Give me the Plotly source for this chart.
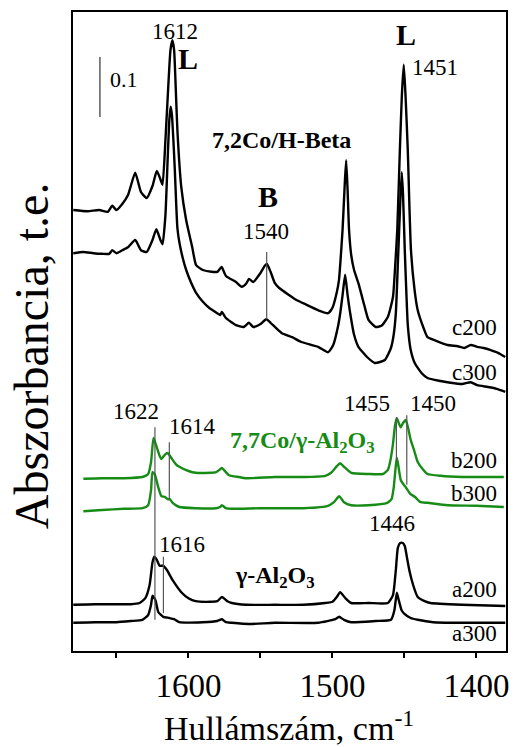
import plotly.graph_objects as go

# ---- data (wavenumber cm-1, absorbance incl. stacking offset) ----
c200_x = [1680,1670,1662,1656,1653,1650,1646,1642,1637,1633,1629,1625,1622,1619,1618,1616,1614,1612.5,1611.2,1610,1608.8,1607.7,1605,1601.6,1597.4,1594.7,1590,1584,1580,1577,1574,1567,1563,1560,1558,1555,1550,1547,1545.5,1543,1540,1537,1530,1525,1518,1510,1503,1500,1497,1495.5,1494.5,1493,1491.5,1490.5,1489.5,1488.5,1487,1485,1482,1478,1475,1470,1466,1461.5,1458,1456.5,1455,1453.2,1451.8,1450.5,1449.3,1447.7,1446.5,1445.5,1443,1440.8,1437,1434,1428,1420,1413,1408.5,1404,1399.5,1395,1390.6,1385,1380]
c200_y = [0.735,0.733,0.735,0.732,0.742,0.735,0.745,0.760,0.797,0.765,0.755,0.775,0.800,0.783,0.777,0.852,0.943,1.002,1.018,1.002,0.935,0.868,0.773,0.718,0.673,0.643,0.635,0.632,0.632,0.640,0.625,0.615,0.607,0.612,0.620,0.615,0.630,0.642,0.645,0.632,0.613,0.605,0.593,0.585,0.577,0.568,0.563,0.572,0.598,0.618,0.648,0.702,0.777,0.818,0.768,0.702,0.660,0.635,0.613,0.577,0.552,0.540,0.542,0.557,0.590,0.640,0.702,0.835,0.927,0.977,0.927,0.835,0.735,0.668,0.602,0.568,0.540,0.523,0.517,0.510,0.508,0.505,0.510,0.507,0.505,0.502,0.497,0.490]

c300_x = [1680,1673,1666,1660,1655,1653,1650,1646,1642,1637,1633,1629,1625,1622.3,1619.5,1618,1616,1614.5,1613.3,1612.4,1611.5,1610.5,1609.5,1608.5,1607.7,1606.4,1604,1601.6,1598,1594.7,1590,1585.7,1580,1578,1576.8,1574,1567,1561.6,1558,1555,1550,1546,1543,1535.4,1528,1521.6,1510,1503,1499.5,1496,1494.5,1493,1491.2,1489.5,1487.7,1485,1482,1476,1470.5,1463.6,1459.4,1457.5,1456,1454.5,1453,1451.9,1451,1449.8,1448.5,1447.7,1445.7,1442.9,1438,1434,1425,1418,1410,1404,1399.5,1392,1386,1380]
c300_y = [0.663,0.665,0.663,0.662,0.662,0.668,0.663,0.668,0.673,0.685,0.668,0.665,0.685,0.703,0.685,0.678,0.727,0.818,0.885,0.907,0.893,0.852,0.802,0.743,0.705,0.682,0.655,0.635,0.613,0.597,0.582,0.572,0.563,0.560,0.565,0.555,0.543,0.540,0.547,0.540,0.545,0.553,0.547,0.530,0.523,0.515,0.507,0.498,0.510,0.543,0.565,0.593,0.627,0.593,0.563,0.527,0.507,0.490,0.480,0.485,0.505,0.527,0.563,0.652,0.743,0.798,0.760,0.668,0.585,0.543,0.502,0.480,0.463,0.455,0.450,0.447,0.445,0.448,0.443,0.440,0.437,0.432]

b200_x = [1673,1660,1645,1632,1628,1626,1624.3,1622.5,1620,1618.8,1616.5,1614.5,1612,1609,1606.4,1600,1595,1585,1580.8,1578,1576.8,1574,1571.9,1565,1560,1540,1520,1505,1501,1497,1494.7,1492,1487,1475,1465,1461.5,1460,1458.1,1456.5,1455.3,1454,1452.6,1451,1449.1,1447.5,1445.7,1443,1440.8,1437,1434,1425,1410,1395,1381]
b200_y = [0.287,0.288,0.288,0.290,0.295,0.315,0.355,0.343,0.325,0.320,0.327,0.330,0.322,0.312,0.307,0.300,0.297,0.297,0.298,0.303,0.305,0.298,0.293,0.290,0.288,0.290,0.290,0.292,0.297,0.308,0.313,0.307,0.297,0.295,0.295,0.302,0.315,0.343,0.377,0.388,0.380,0.373,0.380,0.385,0.372,0.352,0.332,0.315,0.302,0.295,0.292,0.290,0.290,0.290]

b300_x = [1673,1660,1645,1632,1628,1626,1625,1623.5,1621,1618.8,1616.5,1614.5,1613,1611,1606.4,1595,1580.8,1578,1576.8,1574,1569.9,1550,1520,1503,1499,1495.4,1492,1487,1475,1462,1459,1457.5,1456.3,1455.3,1454.2,1452.6,1450.5,1449.1,1446,1442.9,1438.8,1434,1420,1400,1381]
b300_y = [0.233,0.235,0.237,0.238,0.243,0.268,0.298,0.295,0.273,0.258,0.257,0.253,0.253,0.247,0.240,0.238,0.238,0.240,0.243,0.238,0.237,0.238,0.238,0.242,0.248,0.258,0.248,0.243,0.243,0.247,0.253,0.272,0.302,0.322,0.308,0.285,0.277,0.273,0.262,0.257,0.248,0.247,0.243,0.242,0.240]

a200_x = [1680,1665,1650,1640,1634,1630,1627,1625,1623.7,1622,1620,1617.5,1615,1611,1605,1600,1595,1585,1580,1576.8,1573,1569.9,1560,1540,1520,1505,1500,1497,1494.7,1491,1487,1475,1461.5,1458,1456,1454.6,1453,1451.2,1449.8,1448,1446.4,1444,1440.8,1436,1432,1410,1380]
a200_y = [0.077,0.078,0.078,0.078,0.080,0.088,0.110,0.148,0.157,0.152,0.142,0.142,0.135,0.118,0.098,0.088,0.083,0.082,0.083,0.090,0.083,0.080,0.077,0.077,0.077,0.080,0.082,0.090,0.098,0.088,0.080,0.080,0.080,0.093,0.135,0.172,0.180,0.180,0.175,0.152,0.132,0.110,0.090,0.083,0.080,0.077,0.075]

a300_x = [1680,1665,1650,1640,1632,1628,1626,1625,1623,1621,1619,1617.5,1613.3,1610,1606.4,1590,1580,1576.8,1574,1569.9,1558,1540,1510,1498,1495.4,1492,1487,1470,1459.4,1457,1455.3,1454,1452,1450,1445.7,1440.8,1430,1410,1380]
a300_y = [0.047,0.048,0.048,0.050,0.052,0.060,0.077,0.092,0.085,0.065,0.060,0.057,0.055,0.053,0.048,0.048,0.050,0.053,0.048,0.047,0.045,0.047,0.047,0.053,0.057,0.052,0.048,0.050,0.052,0.068,0.097,0.085,0.068,0.062,0.055,0.052,0.048,0.047,0.047]

tick_vals = [1650, 1600, 1550, 1500, 1450, 1400]
tick_text = ["", "1600", "", "1500", "", "1400"]

BLACK = "#000000"
GREEN = "#168c16"
GRAY = "#555555"
FONT = "Liberation Serif"

fig = go.Figure()
for xs, ys, col in [(c200_x, c200_y, BLACK), (c300_x, c300_y, BLACK),
                    (b200_x, b200_y, GREEN), (b300_x, b300_y, GREEN),
                    (a200_x, a200_y, BLACK), (a300_x, a300_y, BLACK)]:
    fig.add_trace(go.Scatter(x=xs, y=ys, mode="lines",
                             line=dict(color=col, width=2.4, shape="spline", smoothing=0.5),
                             showlegend=False, hoverinfo="skip"))

# marker lines (wavenumber, y0, y1)
marker_lines = [(1545.7, 0.553, 0.665), (1623.3, 0.052, 0.373), (1613.3, 0.252, 0.348),
                (1617.4, 0.063, 0.157), (1455.6, 0.315, 0.390), (1448.4, 0.277, 0.393)]
for wx, y0, y1 in marker_lines:
    fig.add_shape(type="line", x0=wx, x1=wx, y0=y0, y1=y1, xref="x", yref="y",
                  line=dict(color=GRAY, width=1.2))
# scale bar
fig.add_shape(type="line", x0=1661.5, x1=1661.5, y0=0.89, y1=0.99, xref="x", yref="y",
              line=dict(color="#333333", width=1.2))

def txt(x, y, s, size=23, bold=False, color=BLACK, xanchor="center"):
    if bold:
        s = "<b>" + s + "</b>"
    fig.add_annotation(x=x, y=y, text=s, showarrow=False, xanchor=xanchor, yanchor="middle",
                       font=dict(family=FONT, size=size, color=color))

txt(1609.1, 1.033, "1612")
txt(1600.2, 0.988, "L", 30, True)
txt(1645, 0.952, "0.1", 22)
txt(1535.6, 0.852, "7,2Co/H-Beta", 24, True)
txt(1545, 0.757, "B", 30, True)
txt(1546.4, 0.700, "1540")
txt(1448.8, 1.027, "L", 30, True)
txt(1428.8, 0.972, "1451")
txt(1384.3, 0.540, "c200", xanchor="right")
txt(1384.3, 0.465, "c300", xanchor="right")
txt(1476, 0.412, "1455")
txt(1430.5, 0.412, "1450")
txt(1636.7, 0.400, "1622")
txt(1597.4, 0.375, "1614")
txt(1520.5, 0.348, "7,7Co/γ-Al<sub>2</sub>O<sub>3</sub>", 24, True, GREEN)
txt(1384.3, 0.317, "b200", xanchor="right")
txt(1384.3, 0.262, "b300", xanchor="right")
txt(1458.8, 0.212, "1446")
txt(1604.3, 0.178, "1616")
txt(1539.8, 0.123, "γ-Al<sub>2</sub>O<sub>3</sub>", 24, True)
txt(1384.3, 0.103, "a200", xanchor="right")
txt(1384.3, 0.030, "a300", xanchor="right")

# axis titles
fig.add_annotation(x=0.498, y=-0.118, xref="paper", yref="paper", showarrow=False,
                   text="Hullámszám, cm<sup>-1</sup>", xanchor="center", yanchor="middle",
                   font=dict(family=FONT, size=34, color=BLACK))
fig.add_annotation(x=-0.097, y=0.463, xref="paper", yref="paper", showarrow=False,
                   text="Abszorbancia, t.e.", textangle=-90, xanchor="center", yanchor="middle",
                   font=dict(family=FONT, size=48, color=BLACK))

fig.update_layout(
    width=516, height=747,
    margin=dict(l=73, r=7, t=12, b=96),
    paper_bgcolor="white", plot_bgcolor="white",
    font=dict(family=FONT, color=BLACK),
    xaxis=dict(range=[1680.2, 1379.5], tickvals=tick_vals, ticktext=tick_text,
               ticks="outside", ticklen=5, tickwidth=1.5, tickcolor=BLACK,
               tickfont=dict(family=FONT, size=33, color=BLACK),
               showline=True, linecolor=BLACK, linewidth=1.5, mirror=True,
               showgrid=False, zeroline=False),
    yaxis=dict(range=[0, 1.065], showticklabels=False, ticks="",
               showline=True, linecolor=BLACK, linewidth=1.5, mirror=True,
               showgrid=False, zeroline=False),
)

fig.write_html("out.html")
